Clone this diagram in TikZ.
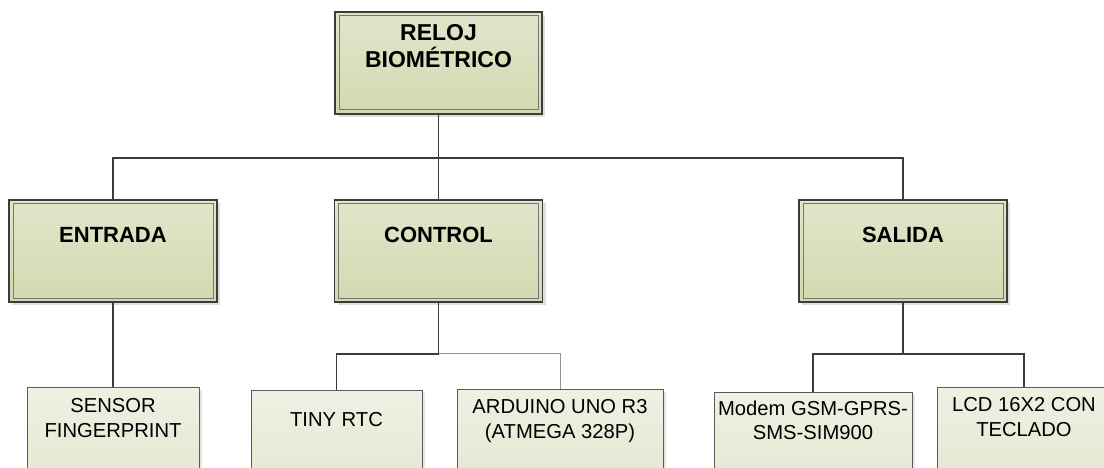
\documentclass[tikz,border=0pt]{standalone}
\usepackage{fontspec}
\setmainfont{Liberation Sans}
\usetikzlibrary{shadows}
\definecolor{linec}{HTML}{3C3C3C}
\definecolor{innerc}{HTML}{767676}
\definecolor{upT}{HTML}{E1E6CB}
\definecolor{upB}{HTML}{D2D9B0}
\definecolor{loT}{HTML}{EEF1E3}
\definecolor{loB}{HTML}{E2E7D0}
\definecolor{loline}{HTML}{5A5A5A}
\tikzset{
  upbox/.style={draw=linec, line width=1.3pt, top color=upT, bottom color=upB,
    minimum width=208pt, minimum height=102pt, inner sep=0pt,
    drop shadow={shadow xshift=3pt, shadow yshift=-3pt, fill=black!13, opacity=1},
    path picture={\draw[draw=innerc, line width=1pt]
      ([shift={(4pt,-4pt)}]path picture bounding box.north west) rectangle
      ([shift={(-4pt,4pt)}]path picture bounding box.south east);}},
  lobox/.style={draw=loline, line width=0.9pt, top color=loT, bottom color=loB,
    minimum height=102pt, inner sep=0pt,
    drop shadow={shadow xshift=2.5pt, shadow yshift=-2.5pt, fill=black!10, opacity=1}},
  bigtxt/.style={font=\fontsize{23}{27}\selectfont\bfseries, align=center, inner sep=0pt, anchor=north},
  midtxt/.style={font=\fontsize{22}{26}\selectfont\bfseries, align=center, inner sep=0pt, anchor=north},
  lotxt/.style={font=\fontsize{20.2}{24.5}\selectfont, align=center, inner sep=0pt, anchor=north},
  conn/.style={draw=linec, line width=1.8pt},
  thinconn/.style={draw=gray!85, line width=0.9pt}
}
\begin{document}
\begin{tikzpicture}[x=1pt,y=-1pt]
\useasboundingbox (0,0) rectangle (1104,468);
\clip (0,0) rectangle (1104,468);
% top level
\node[upbox, minimum width=207pt] (top) at (438.5,63) {};
\node[bigtxt] (ttop) at ([yshift=-13pt]top.north) {RELOJ\\BIOMÉTRICO};
% middle level
\node[upbox] (entrada) at (113,251) {};
\node[upbox] (control) at (438.5,251) {};
\node[upbox] (salida) at (903,251) {};
\node[midtxt] (tentrada) at ([yshift=-28pt]entrada.north) {ENTRADA};
\node[midtxt] (tcontrol) at ([yshift=-28pt]control.north) {CONTROL};
\node[midtxt] (tsalida) at ([yshift=-28pt]salida.north) {SALIDA};
% bottom level
\node[lobox, minimum width=172pt] (sensor) at (113,438) {};
\node[lobox, minimum width=171pt] (tiny) at (336.5,441) {};
\node[lobox, minimum width=206pt] (arduino) at (560,440) {};
\node[lobox, minimum width=198pt] (modem) at (813,443) {};
\node[lobox, minimum width=174pt] (lcd) at (1024,438) {};
\node[lotxt] (tsensor) at ([yshift=-12pt]sensor.north) {SENSOR\\FINGERPRINT};
\node[lotxt] (ttiny) at ([yshift=-23pt]tiny.north) {TINY RTC};
\node[lotxt] (tarduino) at ([yshift=-11pt]arduino.north) {ARDUINO UNO R3\\(ATMEGA 328P)};
\node[lotxt] (tmodem) at ([yshift=-9pt]modem.north) {Modem GSM-GPRS-\\SMS-SIM900};
\node[lotxt] (tlcd) at ([yshift=-11pt]lcd.north) {LCD 16X2 CON\\TECLADO};
% connectors
\coordinate (j0) at ([yshift=-43pt]top.south);
\coordinate (j1) at ([yshift=-51pt]control.south);
\coordinate (j2) at ([yshift=-51pt]salida.south);
\draw[conn] (top.south) -- (j0);
\draw[conn] (entrada.north) |- (j0) -| (salida.north);
\draw[conn] (j0) -- (control.north);
\draw[conn] (entrada.south) -- (sensor.north);
\draw[conn] (control.south) -- (j1);
\draw[thinconn] (j1) -| (arduino.north);
\draw[conn] (j1) -| (tiny.north);
\draw[conn] (salida.south) -- (j2);
\draw[conn] (modem.north) |- (j2) -| (lcd.north);
\end{tikzpicture}
\end{document}
